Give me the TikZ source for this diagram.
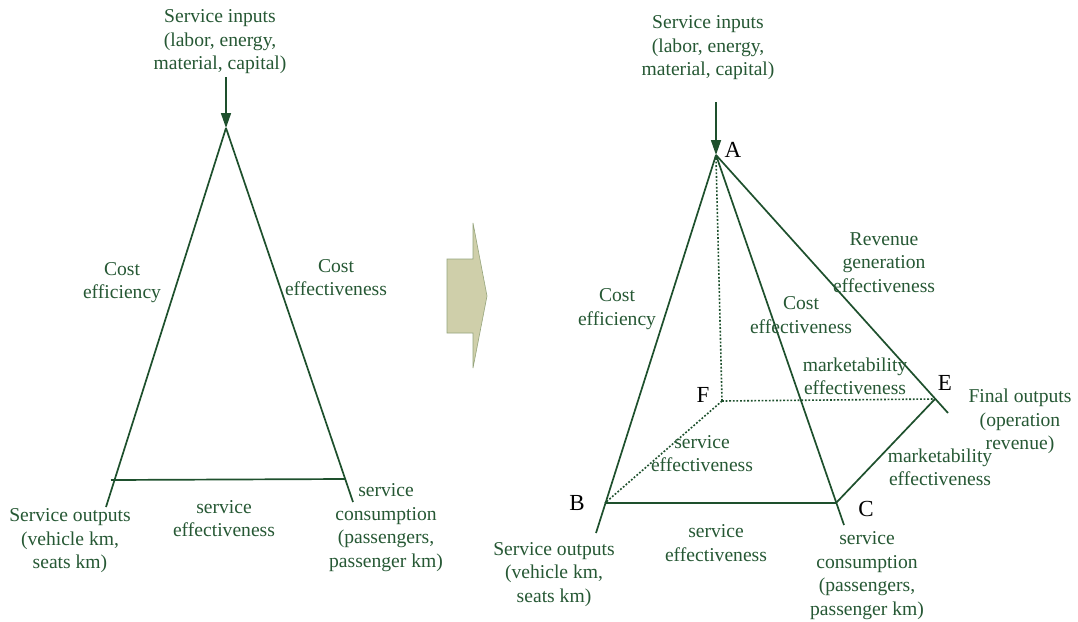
\documentclass[tikz,border=0pt]{standalone}
\usepackage{fontspec}
\setmainfont{Liberation Serif}
\usetikzlibrary{arrows.meta}
\definecolor{lgreen}{RGB}{30,80,45}
\definecolor{tgreen}{RGB}{38,88,52}
\definecolor{khaki}{RGB}{207,207,170}
\definecolor{khakiedge}{RGB}{150,165,125}
\begin{document}
\begin{tikzpicture}[x=1pt,y=-1pt,
  edge/.style={draw=lgreen,line width=1.7pt},
  dotedge/.style={draw=lgreen,line width=1.6pt,dash pattern=on 1.8pt off 1.8pt},
  inarrow/.style={draw=lgreen,line width=1.7pt,-{Triangle[length=15pt,width=10pt]}},
  lbl/.style={text=tgreen,align=center,inner sep=0pt,yshift=-4pt,font=\fontsize{19.6}{23.5}\selectfont,execute at begin node=\strut,execute at end node=\strut},
  vlbl/.style={text=black,inner sep=0pt,font=\fontsize{23}{27}\selectfont},
  blockarrow/.style={fill=khaki,draw=khakiedge,line width=0.6pt}]
\useasboundingbox (0,0) rectangle (1078,621);
\fill[white] (0,0) rectangle (1078,621);

% ---------- left triangle ----------
\coordinate (T) at (226,128);
\coordinate (Tin) at (226,77);
\coordinate (L1) at (106,507);
\coordinate (R1) at (353,502);
\coordinate (BL) at (111,480);
\coordinate (BR) at (345,479);
\draw[edge] (T) -- (L1);
\draw[edge] (T) -- (R1);
\draw[edge] (BL) -- (BR);
\draw[inarrow] (Tin) -- (T);

\node[lbl] (in1) at (220,39.5) {Service inputs\\(labor, energy,\\material, capital)};
\node[lbl] (ce1) at (122,280) {Cost\\efficiency};
\node[lbl] (cf1) at (336,277) {Cost\\effectiveness};
\node[lbl] (out1) at (70,538.5) {Service outputs\\(vehicle km,\\seats km)};
\node[lbl] (se1) at (224,518) {service\\effectiveness};
\node[lbl] (cons1) at (386,525) {service\\consumption\\(passengers,\\passenger km)};

% ---------- block arrow ----------
\coordinate (ba1) at (447,259);
\coordinate (ba2) at (473,259);
\coordinate (ba3) at (473,223);
\coordinate (ba4) at (487,296);
\coordinate (ba5) at (473,368);
\coordinate (ba6) at (473,333);
\coordinate (ba7) at (447,333);
\draw[blockarrow] (ba1) -- (ba2) -- (ba3) -- (ba4) -- (ba5) -- (ba6) -- (ba7) -- cycle;

% ---------- right pyramid ----------
\coordinate (A) at (716,155);
\coordinate (Ain) at (716,102);
\coordinate (B) at (605,503);
\coordinate (C) at (836,503);
\coordinate (E) at (935,399);
\coordinate (F) at (722,401);
\coordinate (Bx) at (596,533);
\coordinate (Cx) at (844,525);
\coordinate (Ex) at (948,413);
\coordinate (Ad) at (716,158);

\draw[edge] (A) -- (Bx);
\draw[edge] (A) -- (Cx);
\draw[edge] (A) -- (Ex);
\draw[edge] (B) -- (C);
\draw[edge] (C) -- (E);
\draw[dotedge] (Ad) -- (F);
\draw[dotedge] (F) -- (E);
\draw[dotedge] (F) -- (B);
\draw[inarrow] (Ain) -- (A);

\node[vlbl] (lA) at (733,150) {A};
\node[vlbl] (lB) at (577,503) {B};
\node[vlbl] (lC) at (866,509) {C};
\node[vlbl] (lE) at (945,383) {E};
\node[vlbl] (lF) at (703,395) {F};

\node[lbl] (in2) at (708,45.5) {Service inputs\\(labor, energy,\\material, capital)};
\node[lbl] (ce2) at (617,306.5) {Cost\\efficiency};
\node[lbl] (rev) at (884,262) {Revenue\\generation\\effectiveness};
\node[lbl] (cf2) at (801,314.5) {Cost\\effectiveness};
\node[lbl] (mk1) at (855,375.5) {marketability\\effectiveness};
\node[lbl] (fin) at (1020,419) {Final outputs\\(operation\\revenue)};
\node[lbl] (mk2) at (940,466.5) {marketability\\effectiveness};
\node[lbl] (se2) at (702,453) {service\\effectiveness};
\node[lbl] (se3) at (716,542.5) {service\\effectiveness};
\node[lbl] (out2) at (554,572) {Service outputs\\(vehicle km,\\seats km)};
\node[lbl] (cons2) at (867,573) {service\\consumption\\(passengers,\\passenger km)};
\end{tikzpicture}
\end{document}
